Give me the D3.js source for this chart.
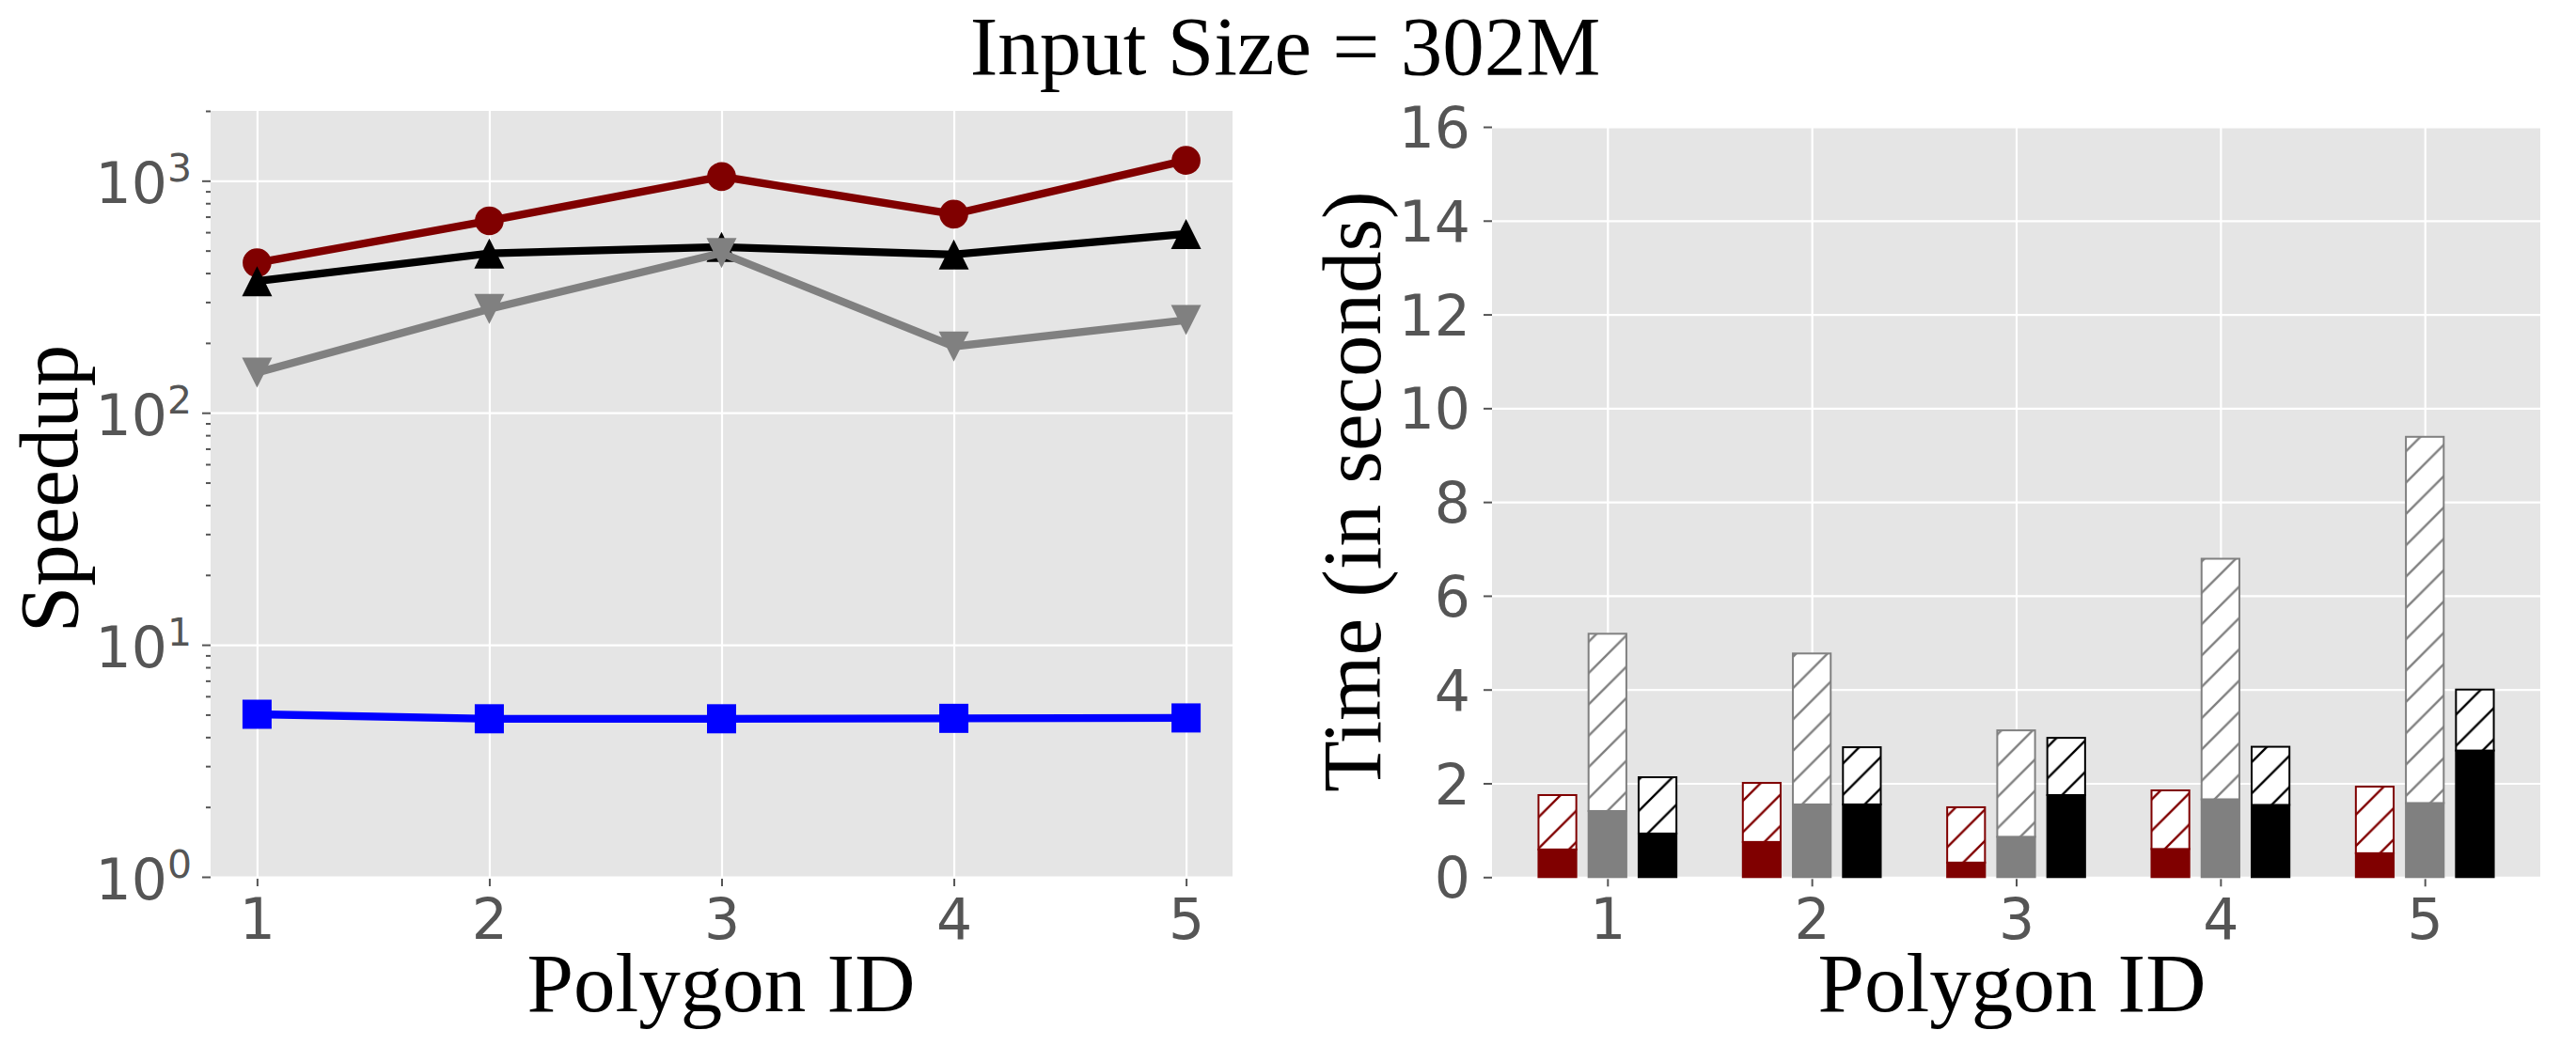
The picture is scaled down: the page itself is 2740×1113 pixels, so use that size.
<!DOCTYPE html>
<html lang="en">
<head>
<meta charset="UTF-8">
<title>Input Size = 302M</title>
<script src="https://d3js.org/d3.v7.min.js"></script>
<style>
  body { margin: 0; background: #fff; }
  .axis .tick text { font-family: "DejaVu Sans", sans-serif; font-size: 60px; fill: #555; }
  .axis .tick line { stroke: #555; stroke-width: 2; }
  .grid .tick line { stroke: #fff; stroke-width: 2.2; }
  .domain { display: none; }
  .label { font-family: "Liberation Serif", "Times New Roman", serif; font-size: 89px; fill: #000; }
</style>
</head>
<body>
<div id="chart"></div>
<script>
// polygon ids on both x axes
const polygonIds = [1, 2, 3, 4, 5];

// left panel: speedup per polygon (log axis)
const speedupRed = [443, 672, 1042, 718, 1224];
const speedupBlack = [369, 486, 518, 481, 590];
const speedupGray = [149, 280, 488, 193, 251];
const speedupBlue = [5.02, 4.8, 4.8, 4.82, 4.84];
const speedupMajorTicks = [1, 10, 100, 1000];

// right panel: time in seconds, solid bottom part + hatched top part
const timeRedSolid = [0.59, 0.75, 0.31, 0.6, 0.51];
const timeRedHatch = [1.16, 1.26, 1.18, 1.25, 1.42];
const timeGraySolid = [1.41, 1.55, 0.86, 1.66, 1.58];
const timeGrayHatch = [3.78, 3.22, 2.27, 5.13, 7.81];
const timeBlackSolid = [0.93, 1.55, 1.75, 1.54, 2.7];
const timeBlackHatch = [1.2, 1.22, 1.22, 1.24, 1.3];
const timeTicks = [0, 2, 4, 6, 8, 10, 12, 14, 16];

const svg = d3.select("#chart").append("svg")
    .attr("width", 2740)
    .attr("height", 1113);

svg.append("text")
    .attr("class", "label")
    .attr("x", 1367)
    .attr("y", 79)
    .attr("text-anchor", "middle")
    .text("Input Size = 302M");

// ---------- left panel ----------
const L = { left: 224, right: 1311, top: 118, bottom: 933 };
const xL = d3.scaleLinear().domain([0.8, 5.2]).range([L.left, L.right]);
const yL = d3.scaleLog().domain([1, 2000]).range([L.bottom, L.top]);

svg.append("rect")
    .attr("x", L.left).attr("y", L.top)
    .attr("width", L.right - L.left).attr("height", L.bottom - L.top)
    .attr("fill", "#e5e5e5");

svg.append("g")
    .attr("class", "grid")
    .attr("transform", `translate(0,${L.bottom})`)
    .call(d3.axisBottom(xL).tickValues(polygonIds).tickSize(-(L.bottom - L.top)).tickFormat(""));

svg.append("g")
    .attr("class", "grid")
    .attr("transform", `translate(${L.left},0)`)
    .call(d3.axisLeft(yL).tickValues(speedupMajorTicks).tickSize(-(L.right - L.left)).tickFormat(""));

const series = [
    { values: speedupRed, color: "#800000", marker: "circle" },
    { values: speedupBlack, color: "#000000", marker: "up" },
    { values: speedupGray, color: "#808080", marker: "down" },
    { values: speedupBlue, color: "#0000ff", marker: "square" }
];

const line = d3.line()
    .x((d, i) => xL(polygonIds[i]))
    .y(d => yL(d));

function markerPath(type) {
    const h = 16;
    if (type === "up") return `M0,${-h}L${h},${h}L${-h},${h}Z`;
    if (type === "down") return `M0,${h}L${h},${-h}L${-h},${-h}Z`;
    if (type === "square") return `M${-15.5},${-15.5}h31v31h-31Z`;
    return d3.symbol(d3.symbolCircle, Math.PI * 15.3 * 15.3)();
}

series.forEach(s => {
    const g = svg.append("g");
    g.append("path")
        .attr("d", line(s.values))
        .attr("fill", "none")
        .attr("stroke", s.color)
        .attr("stroke-width", 8.3)
        .attr("stroke-linejoin", "round");
    g.selectAll(".mk")
        .data(s.values)
        .join("path")
        .attr("class", "mk")
        .attr("transform", (d, i) => `translate(${xL(polygonIds[i])},${yL(d)})`)
        .attr("d", markerPath(s.marker))
        .attr("fill", s.color);
});

// y axis: major ticks with 10^k labels, minor ticks without labels
const yAxisL = svg.append("g")
    .attr("class", "axis")
    .attr("transform", `translate(${L.left},0)`)
    .call(d3.axisLeft(yL).tickValues(speedupMajorTicks).tickSize(9).tickPadding(11));

yAxisL.selectAll(".tick text").each(function (d) {
    const t = d3.select(this);
    t.text(null).attr("dy", null).attr("y", 23);
    t.append("tspan").text("10");
    t.append("tspan").attr("dy", -23).attr("font-size", 41).text(Math.round(Math.log10(d)));
});

svg.append("g")
    .attr("class", "axis")
    .attr("transform", `translate(${L.left},0)`)
    .call(d3.axisLeft(yL)
        .tickValues(yL.ticks().filter(v => !speedupMajorTicks.includes(v)))
        .tickSize(5).tickFormat(""));

svg.append("g")
    .attr("class", "axis")
    .attr("transform", `translate(0,${L.bottom + 2})`)
    .call(d3.axisBottom(xL).tickValues(polygonIds).tickSize(8).tickFormat(d3.format("d")))
    .selectAll("text").attr("y", 64).attr("dy", 0);

svg.append("text")
    .attr("class", "label")
    .attr("transform", "translate(82,520) rotate(-90)")
    .attr("text-anchor", "middle")
    .text("Speedup");

svg.append("text")
    .attr("class", "label")
    .attr("x", 767)
    .attr("y", 1076)
    .attr("text-anchor", "middle")
    .text("Polygon ID");

// ---------- right panel ----------
const R = { left: 1587, right: 2702, top: 135, bottom: 933.3 };
const xR = d3.scaleLinear().domain([0.435, 5.565]).range([R.left, R.right]);
const yR = d3.scaleLinear().domain([0, 16]).range([R.bottom, R.top]);

svg.append("rect")
    .attr("x", R.left).attr("y", R.top)
    .attr("width", R.right - R.left).attr("height", R.bottom - R.top)
    .attr("fill", "#e5e5e5");

svg.append("g")
    .attr("class", "grid")
    .attr("transform", `translate(0,${R.bottom})`)
    .call(d3.axisBottom(xR).tickValues(polygonIds).tickSize(-(R.bottom - R.top)).tickFormat(""));

svg.append("g")
    .attr("class", "grid")
    .attr("transform", `translate(${R.left},0)`)
    .call(d3.axisLeft(yR).tickValues(timeTicks).tickSize(-(R.right - R.left)).tickFormat(""));

const barGroups = [
    { solid: timeRedSolid, hatch: timeRedHatch, color: "#800000", id: "hatch-red", offset: -0.245 },
    { solid: timeGraySolid, hatch: timeGrayHatch, color: "#808080", id: "hatch-gray", offset: 0 },
    { solid: timeBlackSolid, hatch: timeBlackHatch, color: "#000000", id: "hatch-black", offset: 0.245 }
];
const barWidth = 0.185;

const defs = svg.append("defs");
const P = 200 / 6;
barGroups.forEach(b => {
    const pat = defs.append("pattern")
        .attr("id", b.id)
        .attr("patternUnits", "userSpaceOnUse")
        .attr("x", 6).attr("y", 0)
        .attr("width", P).attr("height", P);
    pat.append("rect").attr("width", P).attr("height", P).attr("fill", "#fff");
    pat.append("path")
        .attr("d", `M0,${P}L${P},0M-6,6L6,-6M${P - 6},${P + 6}L${P + 6},${P - 6}`)
        .attr("stroke", b.color)
        .attr("stroke-width", 2.4);
});

barGroups.forEach(b => {
    const g = svg.append("g");
    const bx = i => xR(polygonIds[i] + b.offset - barWidth / 2);
    const bw = xR(barWidth) - xR(0);
    g.selectAll(".solid")
        .data(b.solid)
        .join("rect")
        .attr("class", "solid")
        .attr("x", (d, i) => bx(i))
        .attr("width", bw)
        .attr("y", d => yR(d))
        .attr("height", d => yR(0) - yR(d))
        .attr("fill", b.color)
        .attr("stroke", b.color)
        .attr("stroke-width", 2);
    g.selectAll(".hatch")
        .data(b.hatch)
        .join("rect")
        .attr("class", "hatch")
        .attr("x", (d, i) => bx(i))
        .attr("width", bw)
        .attr("y", (d, i) => yR(b.solid[i] + d))
        .attr("height", (d, i) => yR(b.solid[i]) - yR(b.solid[i] + d))
        .attr("fill", `url(#${b.id})`)
        .attr("stroke", b.color)
        .attr("stroke-width", 2);
});

svg.append("g")
    .attr("class", "axis")
    .attr("transform", `translate(${R.left},0)`)
    .call(d3.axisLeft(yR).tickValues(timeTicks).tickSize(9).tickPadding(14))
    .selectAll("text").attr("dy", "0.36em");

svg.append("g")
    .attr("class", "axis")
    .attr("transform", `translate(0,${R.bottom + 2})`)
    .call(d3.axisBottom(xR).tickValues(polygonIds).tickSize(8).tickFormat(d3.format("d")))
    .selectAll("text").attr("y", 64).attr("dy", 0);

svg.append("text")
    .attr("class", "label")
    .attr("transform", "translate(1468,523) rotate(-90)")
    .attr("text-anchor", "middle")
    .text("Time (in seconds)");

svg.append("text")
    .attr("class", "label")
    .attr("x", 2140)
    .attr("y", 1076)
    .attr("text-anchor", "middle")
    .text("Polygon ID");
</script>
</body>
</html>
